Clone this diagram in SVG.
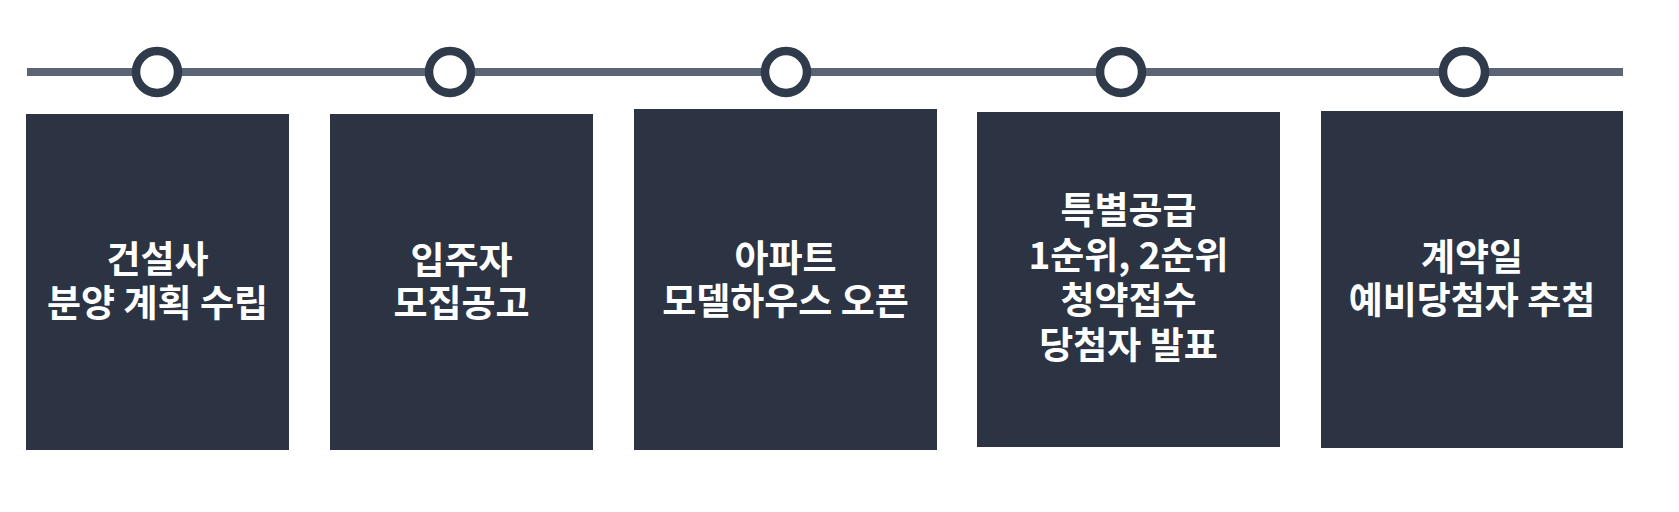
<svg xmlns="http://www.w3.org/2000/svg" width="1679" height="512" viewBox="0 0 1679 512">
<style>
.box{fill:#2c3444}
.dot{fill:#ffffff;stroke:#2f3a4a;stroke-width:8.5}
.lbl{font-family:"Noto Sans CJK KR","Noto Sans",sans-serif;font-weight:700;font-size:37px;fill:#ffffff;text-anchor:middle}
</style>
<rect width="1679" height="512" fill="#ffffff"/>
<g id="connectors">
<line x1="27" y1="72" x2="1623" y2="72" stroke="#5a6474" stroke-width="8"/>
</g>
<g id="node1">
<circle class="dot" cx="157" cy="72" r="21"/>
<rect class="box" x="26" y="114" width="263" height="336"/>
<text class="lbl"><tspan x="157.5" y="273">건설사</tspan><tspan x="157.5" y="317">분양 계획 수립</tspan></text>
</g>
<g id="node2">
<circle class="dot" cx="450" cy="72" r="21"/>
<rect class="box" x="330" y="114" width="263" height="336"/>
<text class="lbl"><tspan x="461.5" y="274">입주자</tspan><tspan x="461.5" y="317">모집공고</tspan></text>
</g>
<g id="node3">
<circle class="dot" cx="786" cy="72" r="21"/>
<rect class="box" x="634" y="109" width="303" height="341"/>
<text class="lbl"><tspan x="785.5" y="272">아파트</tspan><tspan x="785.5" y="315">모델하우스 오픈</tspan></text>
</g>
<g id="node4">
<circle class="dot" cx="1121" cy="72" r="21"/>
<rect class="box" x="977" y="112" width="303" height="335"/>
<text class="lbl"><tspan x="1128.5" y="224">특별공급</tspan><tspan x="1128.5" y="269">1순위, 2순위</tspan><tspan x="1128.5" y="314">청약접수</tspan><tspan x="1128.5" y="359">당첨자 발표</tspan></text>
</g>
<g id="node5">
<circle class="dot" cx="1464" cy="72" r="21"/>
<rect class="box" x="1321" y="111" width="302" height="337"/>
<text class="lbl"><tspan x="1472" y="271">계약일</tspan><tspan x="1472" y="314">예비당첨자 추첨</tspan></text>
</g>
</svg>
